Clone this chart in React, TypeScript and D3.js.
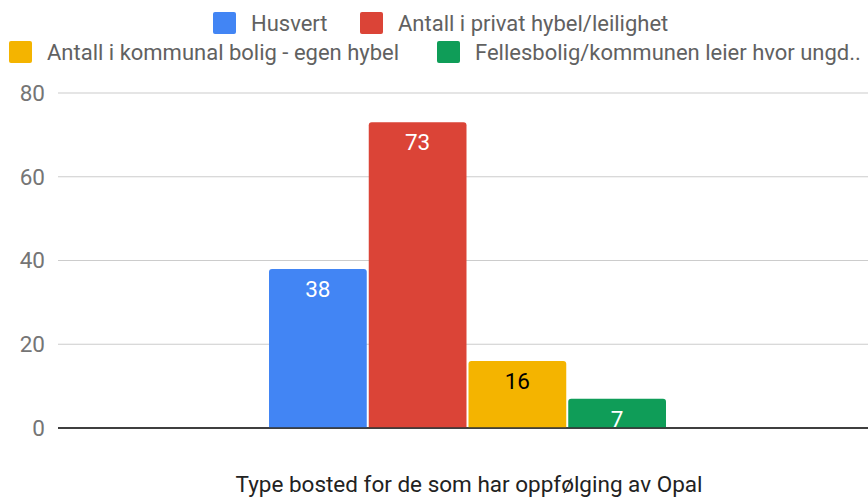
import React from 'react';
import * as d3 from 'd3';

const series = [
  'Husvert',
  'Antall i privat hybel/leilighet',
  'Antall i kommunal bolig - egen hybel',
  'Fellesbolig/kommunen leier hvor ungd..',
];
const values = [38, 73, 16, 7];
const colors = ['#4285f4', '#db4437', '#f4b400', '#0f9d58'];
const labelColors = ['#ffffff', '#ffffff', '#000000', '#ffffff'];
const yTicks = [0, 20, 40, 60, 80];
const xTitle = 'Type bosted for de som har oppfølging av Opal';

const W = 868;
const H = 497;
const font = 'Roboto, "Noto Sans", sans-serif';
const fs = 22.5;
const legendFs = 22;

// legend item positions (swatch x, row centre y)
const legendPos = [
  { x: 213, y: 23 },
  { x: 360, y: 23 },
  { x: 9, y: 52 },
  { x: 437, y: 52 },
];

export default function App() {
  const y = d3.scaleLinear().domain([0, 80]).range([428, 93]);
  const x = d3.scaleBand<string>().domain(series).range([269, 666]).paddingInner(0.02);

  const barPath = (x0: number, y0: number, w: number, h: number, r: number) =>
    `M${x0},${y0 + h}V${y0 + r}Q${x0},${y0} ${x0 + r},${y0}H${x0 + w - r}Q${x0 + w},${y0} ${x0 + w},${y0 + r}V${y0 + h}Z`;

  return (
    <svg width={W} height={H} style={{ position: 'absolute', left: 0, top: 0, background: '#fff' }} fontFamily={font}>
      {/* legend */}
      {series.map((s, i) => (
        <g key={s} transform={`translate(${legendPos[i].x},${legendPos[i].y})`}>
          <rect x={0} y={-11} width={23} height={22} rx={2} fill={colors[i]} />
          <text x={38} y={0} dy="0.35em" fontSize={legendFs} fill="#616161">{s}</text>
        </g>
      ))}

      {/* grid + y labels */}
      {yTicks.map((t) => (
        <g key={t}>
          <line x1={58} x2={W} y1={y(t)} y2={y(t)} stroke={t === 0 ? '#333' : '#cccccc'} strokeWidth={t === 0 ? 1.5 : 1.2} />
          <text x={45} y={y(t)} dy="0.35em" textAnchor="end" fontSize={fs} fill="#757575">{t}</text>
        </g>
      ))}

      {/* bars */}
      {series.map((s, i) => {
        const bx = x(s) as number;
        const bw = x.bandwidth();
        const top = y(values[i]);
        return (
          <g key={s}>
            <path d={barPath(bx, top, bw, y(0) - top, 3)} fill={colors[i]} />
            <text x={bx + bw / 2} y={top + 20} dy="0.35em" textAnchor="middle" fontSize={fs} fill={labelColors[i]}>{values[i]}</text>
          </g>
        );
      })}
      <line x1={58} x2={W} y1={y(0)} y2={y(0)} stroke="#333" strokeWidth={1.5} />

      <text x={469} y={484} dy="0.35em" textAnchor="middle" fontSize={fs} fill="#222">{xTitle}</text>
    </svg>
  );
}
